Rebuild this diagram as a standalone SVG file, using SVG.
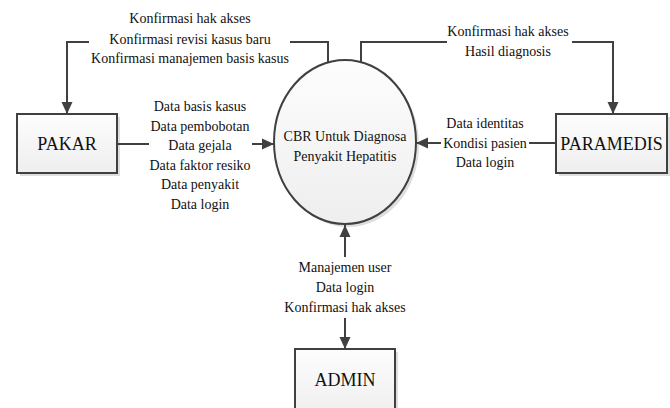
<svg xmlns="http://www.w3.org/2000/svg" width="670" height="408" viewBox="0 0 670 408">
<style>
text{font-family:"Liberation Serif","Times New Roman",serif;fill:#111;text-anchor:middle}
.lbl{font-size:14px}
.big{font-size:18px}
.conn{fill:none;stroke:#404040;stroke-width:2}
.box{fill:url(#g);stroke:#404040;stroke-width:2}
.sh{fill:#dedede}
</style>
<defs>
<linearGradient id="g" x1="0" y1="0" x2="0" y2="1">
<stop offset="0" stop-color="#fdfdfd"/>
<stop offset="1" stop-color="#eeeeee"/>
</linearGradient>
<marker id="ah" markerUnits="userSpaceOnUse" markerWidth="12" markerHeight="12" refX="12" refY="6" orient="auto">
<path d="M0,0.5 L12,6 L0,11.5 z" fill="#404040"/>
</marker>
</defs>
<g id="process">
<ellipse class="sh" cx="348" cy="145" rx="71" ry="82"/>
<ellipse class="box" cx="345" cy="142" rx="71" ry="82"/>
<text class="lbl" x="345" y="141">CBR Untuk Diagnosa</text>
<text class="lbl" x="345" y="161">Penyakit Hepatitis</text>
</g>
<g id="pakar">
<rect class="sh" x="20" y="117" width="100" height="59"/>
<rect class="box" x="17" y="114" width="100" height="59"/>
<text class="big" x="67" y="150">PAKAR</text>
</g>
<g id="paramedis">
<rect class="sh" x="559" y="117" width="111" height="59"/>
<rect class="box" x="556" y="114" width="111" height="59"/>
<text class="big" x="611.5" y="150">PARAMEDIS</text>
</g>
<g id="admin">
<rect class="sh" x="298" y="352" width="100" height="70"/>
<rect class="box" x="295" y="349" width="100" height="70"/>
<text class="big" x="345" y="386">ADMIN</text>
</g>
<g id="connectors">
<path class="conn" d="M328,63 V42 H290"/>
<path class="conn" d="M89,42 H67 V114" marker-end="url(#ah)"/>
<path class="conn" d="M361,62 V42 H447"/>
<path class="conn" d="M572,42 H613 V114" marker-end="url(#ah)"/>
<path class="conn" d="M117,144 H149"/>
<path class="conn" d="M252,144 H274" marker-end="url(#ah)"/>
<path class="conn" d="M556,143 H529"/>
<path class="conn" d="M441,143 H416" marker-end="url(#ah)"/>
<path class="conn" d="M345,257 V225" marker-end="url(#ah)"/>
<path class="conn" d="M345,318 V349" marker-end="url(#ah)"/>
<g id="labels">
<text class="lbl" x="190" y="23">Konfirmasi hak akses</text>
<text class="lbl" x="190" y="43.5">Konfirmasi revisi kasus baru</text>
<text class="lbl" x="190" y="63">Konfirmasi manajemen basis kasus</text>
<text class="lbl" x="508" y="36">Konfirmasi hak akses</text>
<text class="lbl" x="508" y="56">Hasil diagnosis</text>
<text class="lbl" x="200" y="111">Data basis kasus</text>
<text class="lbl" x="200" y="130.5">Data pembobotan</text>
<text class="lbl" x="200" y="150">Data gejala</text>
<text class="lbl" x="200" y="169.5">Data faktor resiko</text>
<text class="lbl" x="200" y="189">Data penyakit</text>
<text class="lbl" x="200" y="208.5">Data login</text>
<text class="lbl" x="485" y="128">Data identitas</text>
<text class="lbl" x="485" y="147.5">Kondisi pasien</text>
<text class="lbl" x="485" y="167">Data login</text>
<text class="lbl" x="345" y="272">Manajemen user</text>
<text class="lbl" x="345" y="292">Data login</text>
<text class="lbl" x="345" y="312">Konfirmasi hak akses</text>
</g>
</g>
</svg>
